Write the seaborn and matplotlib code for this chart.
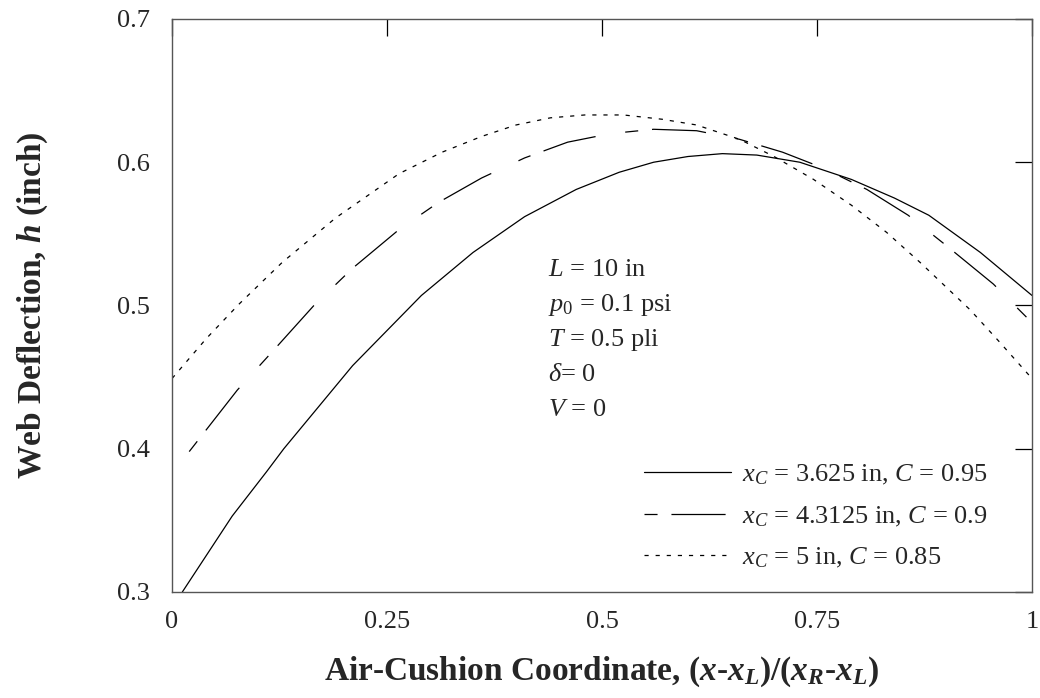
import matplotlib
matplotlib.use("Agg")
import matplotlib.pyplot as plt
import seaborn as sns
import pandas as pd

# ---- data ----
x_c095 = [0.012, 0.07, 0.11, 0.13, 0.21, 0.29, 0.35, 0.41, 0.47, 0.52, 0.56, 0.60,
          0.64, 0.68, 0.73, 0.79, 0.84, 0.88, 0.94, 1.0]
h_c095 = [0.300, 0.353, 0.384, 0.400, 0.458, 0.507, 0.537, 0.562, 0.581, 0.593, 0.600,
          0.604, 0.606, 0.605, 0.600, 0.588, 0.575, 0.563, 0.537, 0.507]

x_c090 = [0.02, 0.076, 0.12, 0.165, 0.21, 0.264, 0.31, 0.36, 0.41, 0.46, 0.51, 0.56,
          0.61, 0.66, 0.71, 0.757, 0.808, 0.856, 0.9, 0.955, 1.0]
h_c090 = [0.398, 0.441, 0.470, 0.500, 0.526, 0.553, 0.572, 0.589, 0.603, 0.614, 0.620,
          0.623, 0.622, 0.616, 0.607, 0.596, 0.581, 0.563, 0.542, 0.515, 0.488]

x_c085 = [0.0, 0.04, 0.078, 0.128, 0.19, 0.264, 0.314, 0.36, 0.40, 0.44, 0.48, 0.525,
          0.57, 0.61, 0.66, 0.70, 0.746, 0.79, 0.831, 0.87, 0.928, 0.96, 1.0]
h_c085 = [0.449, 0.477, 0.501, 0.530, 0.561, 0.592, 0.607, 0.618, 0.626, 0.631, 0.633,
          0.633, 0.630, 0.626, 0.616, 0.604, 0.588, 0.570, 0.551, 0.530, 0.497, 0.476, 0.449]

labels = [r"$x_C$ = 3.625 in, $C$ = 0.95",
          r"$x_C$ = 4.3125 in, $C$ = 0.9",
          r"$x_C$ = 5 in, $C$ = 0.85"]

x_ticks = [0, 0.25, 0.5, 0.75, 1]
x_tick_labels = ["0", "0.25", "0.5", "0.75", "1"]
y_ticks = [0.3, 0.4, 0.5, 0.6, 0.7]
y_tick_labels = ["0.3", "0.4", "0.5", "0.6", "0.7"]

notes = [r"$L$ = 10 in", r"$p_0$ = 0.1 psi", r"$T$ = 0.5 pli", r"$\delta$= 0", r"$V$ = 0"]

x_label = (r"Air-Cushion Coordinate, ($\mathbfit{x}$-$\mathbfit{x}_\mathbfit{L}$)/"
           r"($\mathbfit{x}_\mathbfit{R}$-$\mathbfit{x}_\mathbfit{L}$)")
y_label = r"Web Deflection, $\mathbfit{h}$ (inch)"

# ---- style ----
sns.set_theme(style="white")
plt.rcParams["font.family"] = ["Liberation Serif", "DejaVu Serif"]
plt.rcParams["mathtext.fontset"] = "custom"
plt.rcParams["mathtext.rm"] = "Liberation Serif"
plt.rcParams["mathtext.it"] = "Liberation Serif:italic"
plt.rcParams["mathtext.bf"] = "Liberation Serif:bold"
plt.rcParams["mathtext.bfit"] = "Liberation Serif:italic:bold"
plt.rcParams["lines.scale_dashes"] = False

fig = plt.figure(figsize=(10.4, 6.98), dpi=100)
ax = fig.add_axes([0.1654, 0.1519, 0.8269, 0.8209])

series = [
    (x_c095, h_c095, labels[0], "-"),
    (x_c090, h_c090, labels[1], (0, (9.4, 10, 39, 21.6))),
    (x_c085, h_c085, labels[2], (0, (3, 5))),
]
for xs, hs, lab, ls in series:
    df = pd.DataFrame({"x": xs, "h": hs})
    sns.lineplot(data=df, x="x", y="h", ax=ax, color="black", linewidth=0.9,
                 linestyle=ls, label=lab, estimator=None, sort=False)

ax.set_xlim(0, 1)
ax.set_ylim(0.3, 0.7)
ax.set_xticks(x_ticks)
ax.set_xticklabels(x_tick_labels)
ax.set_yticks(y_ticks)
ax.set_yticklabels(y_tick_labels)
ax.tick_params(direction="in", length=12, width=0.9, color="black",
               top=True, right=True, labelsize=19, pad=14)
ax.tick_params(axis="y", pad=16)
for s in ax.spines.values():
    s.set_color("#555555")
    s.set_linewidth(1.0)

ax.set_xlabel(x_label, fontsize=24, fontweight="bold", labelpad=15)
ax.set_ylabel(y_label, fontsize=24, fontweight="bold", labelpad=48)

for i, t in enumerate(notes):
    ax.text(0.437, 0.562 - i * 0.061, t, transform=ax.transAxes, fontsize=19,
            ha="left", va="center")

leg = ax.legend(loc="lower right", bbox_to_anchor=(0.961, 0.02), frameon=False,
                fontsize=19, handlelength=3.3, handletextpad=0.45,
                labelspacing=0.65, borderaxespad=0.0)

fig.savefig("out.png", dpi=100)
